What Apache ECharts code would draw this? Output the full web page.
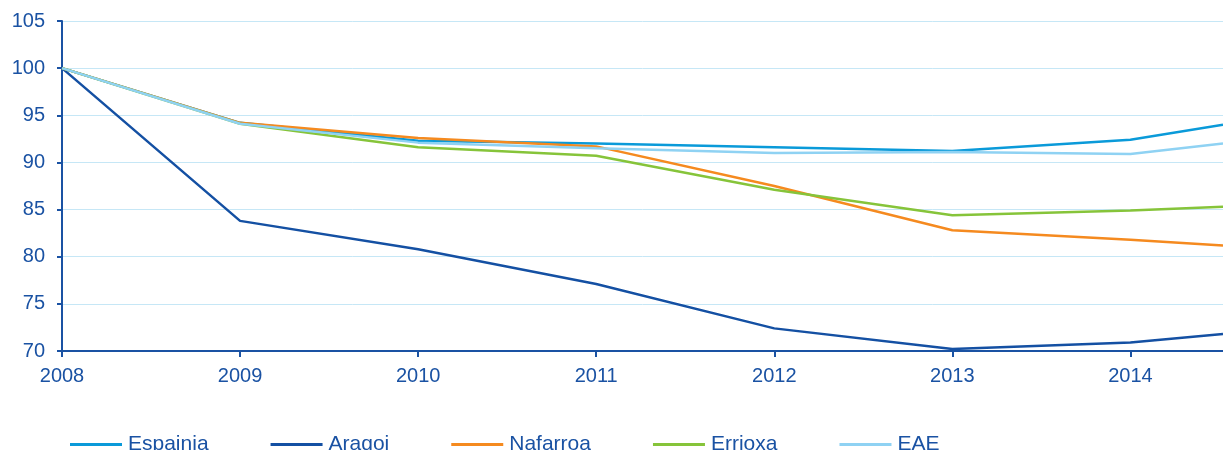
<!DOCTYPE html>
<html>
<head>
<meta charset="utf-8">
<script src="https://cdn.jsdelivr.net/npm/echarts@6/dist/echarts.min.js"></script>
<style>
  html, body { margin: 0; padding: 0; background: #fff; }
  #main { width: 1223px; height: 450px; }
</style>
</head>
<body>
<div id="main"></div>
<script>
// urteak; azken puntua irudiaren ertzean mozten da
var years = [2008, 2009, 2010, 2011, 2012, 2013, 2014, 2014.52];
var yearTicks = [2008, 2009, 2010, 2011, 2012, 2013, 2014];

var espainia = [100, 94.2, 92.3, 92.0, 91.6, 91.2, 92.4, 94.0];
var aragoi   = [100, 83.8, 80.8, 77.1, 72.4, 70.2, 70.9, 71.8];
var nafarroa = [100, 94.2, 92.6, 91.7, 87.5, 82.8, 81.8, 81.2];
var errioxa  = [100, 94.1, 91.6, 90.7, 87.1, 84.4, 84.9, 85.3];
var eae      = [100, 94.1, 92.1, 91.5, 91.0, 91.1, 90.9, 92.0];

var names  = ['Espainia', 'Aragoi', 'Nafarroa', 'Errioxa', 'EAE'];
var colors = ['#0a9ad9', '#1450a3', '#f58a1f', '#86c43a', '#8fd2f3'];
var values = [espainia, aragoi, nafarroa, errioxa, eae];

var textColor = '#1a52a3';
var fontFam = '"Liberation Sans", Arial, sans-serif';

function pairs(arr) {
    var out = [];
    for (var i = 0; i < arr.length; i++) out.push([years[i], arr[i]]);
    return out;
}

var series = [];
for (var i = 0; i < names.length; i++) {
    series.push({
        name: names[i],
        type: 'line',
        data: pairs(values[i]),
        showSymbol: false,
        symbol: 'none',
        lineStyle: { color: colors[i], width: 2.5 },
        itemStyle: { color: colors[i] },
        animation: false
    });
}

var chart = echarts.init(document.getElementById('main'));
chart.setOption({
    animation: false,
    grid: { left: 62, right: 0, top: 21, bottom: 99, containLabel: false },
    legend: {
        left: 65,
        top: 429,
        icon: 'rect',
        itemWidth: 52,
        itemHeight: 3,
        itemGap: 62,
        textStyle: { color: textColor, fontSize: 21, fontFamily: fontFam, lineHeight: 20, padding: [0, 0, 0, 1] },
        data: names
    },
    xAxis: {
        type: 'value',
        min: 2008,
        max: 2014.52,
        interval: 1,
        axisLine: { lineStyle: { color: textColor, width: 2 } },
        axisTick: { show: true, length: 6, lineStyle: { color: textColor, width: 2 }, customValues: yearTicks },
        axisLabel: {
            color: textColor, fontSize: 20, fontFamily: fontFam, margin: 15,
            customValues: yearTicks,
            formatter: function (v) { return String(v); }
        },
        splitLine: { show: false }
    },
    yAxis: {
        type: 'value',
        min: 70,
        max: 105,
        interval: 5,
        axisLine: { show: true, lineStyle: { color: textColor, width: 2 } },
        axisTick: { show: true, length: 5, lineStyle: { color: textColor, width: 2 } },
        axisLabel: { color: textColor, fontSize: 20, fontFamily: fontFam, margin: 17 },
        splitLine: { lineStyle: { color: '#c6e7f6', width: 1 } }
    },
    series: series
});
</script>
</body>
</html>
